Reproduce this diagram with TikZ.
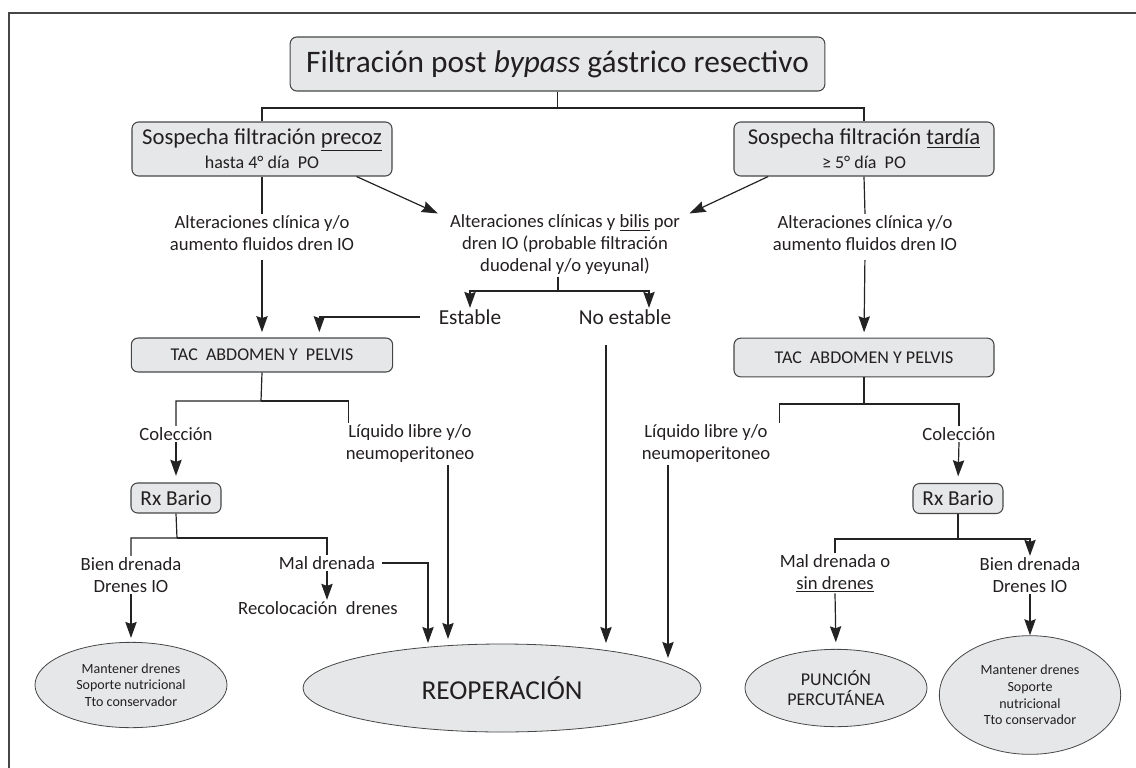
\documentclass[tikz,border=0pt]{standalone}
\usepackage{fontspec}
\setmainfont{Carlito}
\usetikzlibrary{arrows.meta,shapes.geometric}

\definecolor{boxfill}{RGB}{230,231,232}
\definecolor{linec}{RGB}{35,35,35}
\definecolor{boxline}{RGB}{70,70,70}
\definecolor{txt}{RGB}{35,31,32}

\begin{document}
\begin{tikzpicture}[x=0.75pt,y=0.75pt,yscale=-1,
  box/.style={draw=boxline,fill=boxfill,rounded corners=5pt,line width=0.8pt,align=center,inner sep=0pt,text=txt},
  oval/.style={ellipse,draw=boxline,fill=boxfill,line width=0.6pt,align=center,inner sep=0pt,text=txt},
  lbl/.style={align=center,inner sep=1pt,text=txt,font=\fontsize{14}{16.5}\selectfont},
  con/.style={draw=linec,line width=0.9pt},
  arr/.style={con,-{Stealth[length=12pt,width=8.5pt,inset=1.5pt]}}]
\useasboundingbox (0,0) rectangle (1136,768);

%frame
\draw [draw=boxline,line width=1.2pt] (9,768) -- (9,13) -- (1136,13) ;

% Boxes
\node [box,minimum width=401pt,minimum height=40.5pt,font=\fontsize{23.5}{27}\selectfont] (title) at (557.5,64) {Filtración post \textit{bypass} gástrico resectivo};
\node [box,minimum width=195pt,minimum height=40.5pt,font=\fontsize{17}{19}\selectfont] (precoz) at (262,149) {Sospecha filtración \underline{precoz}\\[-1pt]{\fontsize{13.5}{15}\selectfont hasta 4° día~ PO}};
\node [box,minimum width=195pt,minimum height=40.5pt,font=\fontsize{17}{19}\selectfont] (tardia) at (864,149) {Sospecha filtración \underline{tardía}\\[-1pt]{\fontsize{13.5}{15}\selectfont ≥ 5° día~ PO}};
\node [box,minimum width=196pt,minimum height=25.5pt,font=\fontsize{13.5}{15}\selectfont] (tacP) at (262,355) {TAC~ ABDOMEN Y~ PELVIS};
\node [box,minimum width=195pt,minimum height=29pt,font=\fontsize{13.5}{15}\selectfont] (tacT) at (864,357.5) {TAC~ ABDOMEN Y PELVIS};
\node [box,minimum width=67.5pt,minimum height=22.5pt,font=\fontsize{16}{18}\selectfont] (rxP) at (176,498) {Rx Bario};
\node [box,minimum width=67.5pt,minimum height=22.5pt,font=\fontsize{16}{18}\selectfont] (rxT) at (958,498.5) {Rx Bario};

% Text Nodes
\node [lbl] (altP) at (262,233) {Alteraciones clínica y/o\\aumento fluidos dren IO};
\node [lbl] (altB) at (565,245) {Alteraciones clínicas y \underline{bilis} por\\dren IO (probable filtración\\duodenal y/o yeyunal)};
\node [lbl] (altT) at (865,233) {Alteraciones clínica y/o\\aumento fluidos dren IO};
\node [lbl,font=\fontsize{16}{18}\selectfont] (estable) at (470,317) {Estable};
\node [lbl,font=\fontsize{16}{18}\selectfont] (noest) at (625,317) {No estable};
\node [lbl] (colP) at (176,434) {Colección};
\node [lbl] (liqP) at (410,444) {Líquido libre y/o\\neumoperitoneo};
\node [lbl] (liqT) at (706,444) {Líquido libre y/o\\neumoperitoneo};
\node [lbl] (colT) at (959,434) {Colección};
\node [lbl] (bienP) at (131,575) {Bien drenada\\Drenes IO};
\node [lbl] (malP) at (327,563) {Mal drenada};
\node [lbl] (recol) at (318,608) {Recolocación~ drenes};
\node [lbl] (malT) at (835,573) {Mal drenada o\\\underline{sin drenes}};
\node [lbl] (bienT) at (1030,575) {Bien drenada\\Drenes IO};

% Ovals
\node [oval,minimum width=144pt,minimum height=64pt,font=\fontsize{10.5}{12.5}\selectfont] (ellP) at (131,685) {Mantener drenes\\Soporte nutricional\\Tto conservador};
\node [oval,minimum width=298.5pt,minimum height=66pt,font=\fontsize{20.5}{24}\selectfont] (reop) at (502,688) {REOPERACIÓN};
\node [oval,minimum width=136.5pt,minimum height=58pt,font=\fontsize{13.5}{15.5}\selectfont] (punc) at (836,688) {PUNCIÓN\\PERCUTÁNEA};
\node [oval,minimum width=136pt,minimum height=89pt,font=\fontsize{10.5}{12.5}\selectfont] (ellT) at (1030,695) {Mantener drenes\\Soporte\\nutricional\\Tto conservador};

% Connectors
\coordinate (fTop) at (557.5,108);
\draw [con] (title.south) -- (fTop) -| (precoz.north) ;
\draw [con] (fTop) -| (tardia.north) ;
\draw [con] (precoz.south) -- (altP.north) ;
\draw [con] (tardia.south) -- (altT.north) ;
\draw [arr] ([xshift=-27pt]precoz.south east) -- ([xshift=-8pt]altB.north west) ;
\draw [arr] ([xshift=26pt]tardia.south west) -- ([xshift=6pt]altB.north east) ;
\draw [arr,shorten <=6pt,shorten >=4pt] (altP.south) -- (tacP.north) ;
\draw [arr,shorten <=6pt,shorten >=4pt] (altT.south) -- (tacT.north) ;

\coordinate (fMid) at (558,291);
\draw [con] (fMid |- altB.south) -- (fMid) ;
\draw [arr] (fMid) -| (estable.north) ;
\draw [arr] (fMid) -| ([xshift=18pt]noest.north) ;
\draw [arr,shorten <=13pt,shorten >=4pt] (estable.west) -| ([xshift=43pt]tacP.north) ;

\coordinate (fP) at (261,401);
\draw [con] (tacP.south) -- (fP) -| (colP.north) ;
\draw [con] (fP) -| ([xshift=3pt]liqP.north west) ;
\coordinate (fT) at (864,404);
\draw [con] (tacT.south) -- (fT) -| (colT.north) ;
\draw [con] (fT) -| ([xshift=6pt]liqT.north east) ;
\draw [arr,shorten >=5pt] (colP.south) -- (rxP.north) ;
\draw [arr,shorten >=5pt] (colT.south) -- (rxT.north) ;

\coordinate (gP) at (177,538);
\draw [con] (rxP.south) -- (gP) -| (bienP.north) ;
\draw [con] (gP) -| (malP.north) ;
\coordinate (gT) at (958,539);
\draw [con] (rxT.south) -- (gT) -| (malT.north) ;
\draw [arr] (gT) -| (bienT.north) ;

\draw [arr,shorten >=3pt] (bienP.south) -- (ellP.north) ;
\draw [arr] (malP.south) -- (malP.south |- recol.north) ;
\draw [arr,shorten >=5pt] (malT.south) -- (punc.north) ;
\draw [arr] (bienT.south) -- (ellT.north) ;

% arrows into REOPERACION
\coordinate (rD) at (428,643);
\coordinate (rA) at (448,639);
\coordinate (rB) at (606,643);
\coordinate (rC) at (668,658);
\draw [arr,shorten <=4pt] (malP.east) -| (rD) ;
\draw [arr] (rA |- liqP.south) -- (rA) ;
\draw [arr,shorten <=14pt] (rB |- noest.south) -- (rB) ;
\draw [arr] (rC |- liqT.south) -- (rC) ;

\end{tikzpicture}
\end{document}
